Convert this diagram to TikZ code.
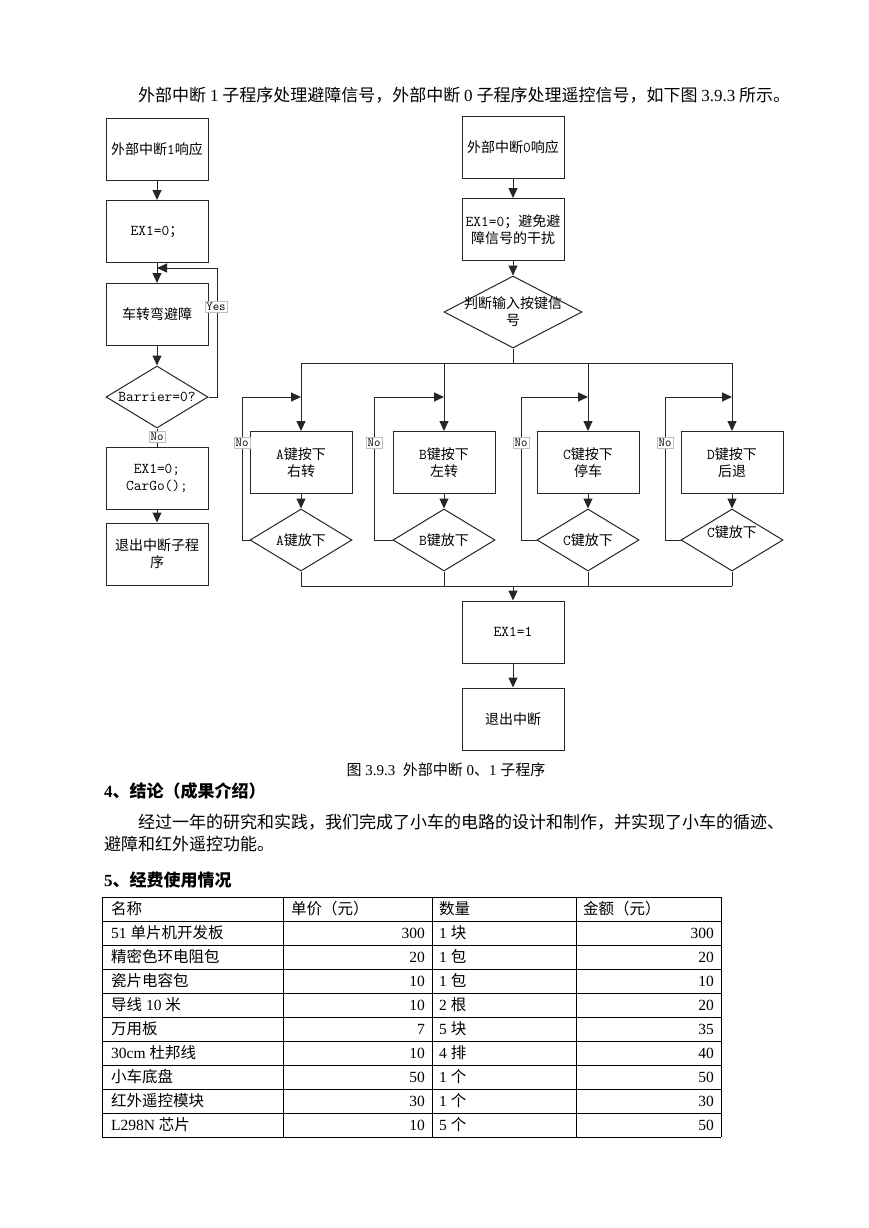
\documentclass[tikz,border=0pt]{standalone}
\usepackage{fontspec}
\setmainfont{Liberation Serif}
\newfontfamily\cjkfont{Noto Sans CJK SC}
\usetikzlibrary{arrows.meta,shapes.geometric}
\XeTeXinterchartokenstate=1
\newXeTeXintercharclass\CJKcls
\makeatletter
\count@="3000 \loop\ifnum\count@<"3040 \XeTeXcharclass\count@=\CJKcls\advance\count@ by 1 \repeat
\count@="4E00 \loop\ifnum\count@<"A000 \XeTeXcharclass\count@=\CJKcls\advance\count@ by 1 \repeat
\count@="FF00 \loop\ifnum\count@<"FFF0 \XeTeXcharclass\count@=\CJKcls\advance\count@ by 1 \repeat
\makeatother
\def\latinfont{\rmfamily}
\def\cjkswitch{\cjkfont}
\XeTeXinterchartoks 0 \CJKcls = {\cjkswitch}
\XeTeXinterchartoks 4095 \CJKcls = {\cjkswitch}
\XeTeXinterchartoks \CJKcls 0 = {\latinfont}
\XeTeXinterchartoks \CJKcls 4095 = {\latinfont}
\newcommand\bodyf{\fontsize{17}{22}\selectfont\rmfamily\def\latinfont{\rmfamily}}
\newcommand\headf{\fontsize{17}{22}\selectfont\rmfamily\bfseries\def\latinfont{\rmfamily}}
\newcommand\fcf{\fontsize{15}{17}\selectfont\ttfamily
  \def\latinfont{\fontsize{15}{17}\selectfont\ttfamily}%
  \def\cjkswitch{\fontsize{14}{17}\selectfont\cjkfont}}
\newcommand\labf{\fontsize{12.5}{14}\selectfont\ttfamily\def\latinfont{\ttfamily}}
\newcommand\capf{\fontsize{15}{18}\selectfont\rmfamily\def\latinfont{\rmfamily}}
\newcommand\tabf{\fontsize{15.5}{18}\selectfont\rmfamily\def\latinfont{\rmfamily}}
\tikzset{
  box/.style={draw=black!85, line width=1pt, minimum width=102pt, minimum height=62pt, inner sep=2pt, align=center, font=\fcf},
  dia/.style={draw=black!85, line width=1pt, diamond, minimum width=102pt, minimum height=62pt, inner sep=0pt},
  dtext/.style={align=center, font=\fcf, inner sep=0pt},
  lab/.style={fill=white, draw=black!25, line width=0.6pt, inner sep=1.5pt, font=\labf},
  arr/.style={draw=black!85, line width=1pt, -{Triangle[length=10pt,width=9pt]}},
  ln/.style={draw=black!85, line width=1pt},
  txt/.style={inner sep=0pt, anchor=base west},
  tabl/.style={draw=black, line width=0.9pt},
  tcell/.style={inner sep=0pt, font=\tabf},
}
\begin{document}
\begin{tikzpicture}[x=1pt,y=-1pt]
\useasboundingbox (0,0) rectangle (869,1228);
\fill[white] (0,0) rectangle (869,1228);

% top line
\node[txt, font=\bodyf] (top) at (138,101.5) {\makebox[652pt][s]{外部中断 1 子程序处理避障信号，外部中断 0 子程序处理遥控信号，如下图 3.9.3 所示。}};

% left flowchart
\node[box] (l1) at (157,149.5) {外部中断1响应};
\node[box] (l2) at (157,231.5) {EX1=0；};
\node[box] (l3) at (157,314.5) {车转弯避障};
\node[dia] (ld) at (157,397) {};
\node[dtext] (ldt) at (ld) {Barrier=0?};
\node[box] (l4) at (157,478) {EX1=0;\\CarGo();};
\node[box] (l5) at (157,554) {退出中断子程\\序};
\coordinate (lm) at (157,268);
\coordinate (lyr) at (217,268);
\coordinate (lyb) at (217,397);
\draw[arr] (l1) -- (l2);
\draw[arr] (l2) -- (l3);
\draw[arr] (ld.east) -- (lyb) -- (lyr) -- (lm);
\draw[arr] (l3) -- (ld);
\draw[ln] (ld.south) -- (l4.north);
\draw[arr] (l4) -- (l5);
\node[lab] (yes) at (216,307) {Yes};
\node[lab] (no0) at (157,437) {No};

% right flowchart
\node[box] (r1) at (513,147.5) {外部中断0响应};
\node[box] (r2) at (513,229.5) {EX1=0；避免避\\障信号的干扰};
\node[dia, minimum width=138pt, minimum height=72pt] (rd) at (513,312) {};
\node[dtext] (rdt) at (513,312) {判断输入按键信\\号};
\draw[arr] (r1) -- (r2);
\draw[arr] (r2) -- (rd);
\coordinate (bus) at (513,363);
\coordinate (busA) at (301,363);
\coordinate (busD) at (732,363);
\draw[ln] (rd.south) -- (bus);
\draw[ln] (busA) -- (busD);
\coordinate (ebA) at (301,586);
\coordinate (ebD) at (732,586);
\draw[ln] (ebA) -- (ebD);

\foreach \n/\x/\lx/\ka/\kb/\dd/\dy in {A/301/242/A键按下/右转/A键放下/540, B/444/374/B键按下/左转/B键放下/540, C/588/521/C键按下/停车/C键放下/540, D/732/665/D键按下/后退/C键放下/532}{
  \node[box] (k\n) at (\x,462.5) {\ka\\\kb};
  \node[dia] (d\n) at (\x,540) {};
  \node[dtext] (dt\n) at (\x,\dy) {\dd};
  \coordinate (t\n) at (\x,363);
  \coordinate (m\n) at (\x,397);
  \coordinate (c\n) at (\lx,540);
  \coordinate (e\n) at (\x,586);
  \draw[arr] (t\n) -- (k\n);
  \draw[arr] (k\n) -- (d\n);
  \draw[arr] (d\n.west) -- (c\n) |- (m\n);
  \draw[ln] (d\n.south) -- (e\n);
  \node[lab] (no\n) at (\lx,443) {No};
}

\coordinate (be) at (513,586);
\node[box] (e1) at (513,632) {EX1=1};
\node[box] (e2) at (513,719) {退出中断};
\draw[arr] (be) -- (e1);
\draw[arr] (e1) -- (e2);

\node[font=\capf, inner sep=0pt] (cap) at (446,770) {图 3.9.3 \ 外部中断 0、1 子程序};

% section 4
\node[txt, font=\headf] (h4) at (104,797.5) {4、结论（成果介绍）};
\node[txt, font=\bodyf] (p1) at (138,828.5) {经过一年的研究和实践，我们完成了小车的电路的设计和制作，并实现了小车的循迹、};
\node[txt, font=\bodyf] (p2) at (104,850.5) {避障和红外遥控功能。};
\node[txt, font=\headf] (h5) at (104,886.5) {5、经费使用情况};

% table
\foreach \i in {0,...,10}{
  \draw[tabl] (102,897+24*\i) -- (721,897+24*\i);
}
\foreach \cx in {102,283,432,576,721}{
  \draw[tabl] (\cx,897) -- (\cx,1137);
}
\node[tcell, anchor=base west] (th1) at (111,914.5) {名称};
\node[tcell, anchor=base west] (th2) at (291,914.5) {单价（元）};
\node[tcell, anchor=base west] (th3) at (439,914.5) {数量};
\node[tcell, anchor=base west] (th4) at (583,914.5) {金额（元）};
\foreach \i/\a/\b/\c/\d in {1/51 单片机开发板/300/1 块/300, 2/精密色环电阻包/20/1 包/20, 3/瓷片电容包/10/1 包/10, 4/导线 10 米/10/2 根/20, 5/万用板/7/5 块/35, 6/30cm 杜邦线/10/4 排/40, 7/小车底盘/50/1 个/50, 8/红外遥控模块/30/1 个/30, 9/L298N 芯片/10/5 个/50}{
  \node[tcell, anchor=base west] (ta\i) at (111,914.5+24*\i) {\a};
  \node[tcell, anchor=base east] (tb\i) at (425,914.5+24*\i) {\b};
  \node[tcell, anchor=base west] (tc\i) at (439,914.5+24*\i) {\c};
  \node[tcell, anchor=base east] (td\i) at (714,914.5+24*\i) {\d};
}
\end{tikzpicture}
\end{document}
